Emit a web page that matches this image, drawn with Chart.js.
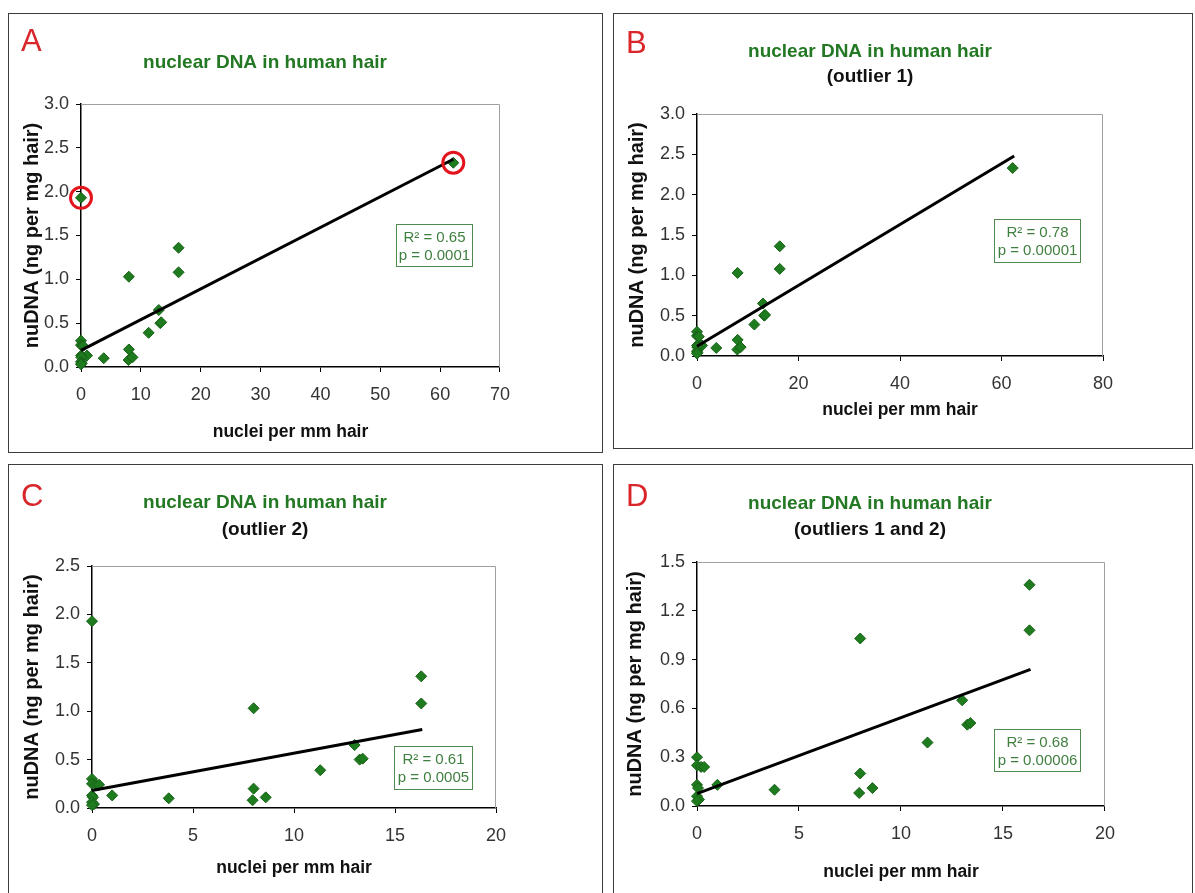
<!DOCTYPE html>
<html>
<head>
<meta charset="utf-8">
<script src="https://cdn.jsdelivr.net/npm/chart.js@4.4.1/dist/chart.umd.min.js"></script>
<style>
body { margin: 0; background: #fff; width: 1195px; height: 893px; overflow: hidden; position: relative; font-family: 'Liberation Sans', Arial, sans-serif; }
.panel { position: absolute; border: 1px solid #3c3c3c; box-sizing: border-box; overflow: hidden; }
.panel canvas { position: absolute; left: -1px; top: -1px; }
.letter { position: absolute; left: 12px; color: #d9262b; font-size: 31px; line-height: 1; }
.stat { position: absolute; box-sizing: border-box; border: 1px solid #4f8a4f; color: #3f7f3f; font-size: 15px; line-height: 18px; text-align: center; padding-top: 3px; font-family: 'Liberation Sans Narrow', 'Liberation Sans', sans-serif; }
</style>
</head>
<body>
<div class="panel" style="left:8px;top:13px;width:595px;height:440px">
  <canvas id="chartA" width="514" height="437"></canvas>
  <div class="letter" style="top:11px">A</div>
  <div class="stat" style="left:387px;top:210px;width:77px;height:43px">R² = 0.65<br>p = 0.0001</div>
</div>
<div class="panel" style="left:613px;top:13px;width:580px;height:436px">
  <canvas id="chartB" width="514" height="437"></canvas>
  <div class="letter" style="top:13px">B</div>
  <div class="stat" style="left:380px;top:205px;width:87px;height:44px">R² = 0.78<br>p = 0.00001</div>
</div>
<div class="panel" style="left:8px;top:464px;width:595px;height:440px">
  <canvas id="chartC" width="514" height="437"></canvas>
  <div class="letter" style="top:15px">C</div>
  <div class="stat" style="left:385px;top:281px;width:79px;height:44px">R² = 0.61<br>p = 0.0005</div>
</div>
<div class="panel" style="left:613px;top:464px;width:580px;height:440px">
  <canvas id="chartD" width="514" height="437"></canvas>
  <div class="letter" style="top:15px">D</div>
  <div class="stat" style="left:380px;top:264px;width:87px;height:43px">R² = 0.68<br>p = 0.00006</div>
</div>

<script>
// hair samples (outliers kept apart)
const nucleiPerMm = [16.3, 16.3, 8.0, 13.0, 13.25, 13.4, 11.3, 8.0, 7.95, 8.6, 3.8, 1.0, 0, 0, 0.2, 0.35, 0, 0.05, 0, 0.1, 0];
const nuDna = [1.36, 1.08, 1.03, 0.65, 0.50, 0.51, 0.39, 0.20, 0.08, 0.11, 0.10, 0.13, 0.30, 0.25, 0.24, 0.24, 0.13, 0.11, 0.06, 0.04, 0.03];
const outlier1 = [0, 1.93];
const outlier2 = [62.2, 2.33];

// trend line ends
const trendA = [[0, 0.19], [62.2, 2.37]];
const trendB = [[0, 0.12], [62.5, 2.48]];
const trendC = [[0, 0.18], [16.35, 0.81]];
const trendD = [[0, 0.076], [16.35, 0.84]];

// axis ticks
const xTicksA = [0, 10, 20, 30, 40, 50, 60, 70];
const xTicksB = [0, 20, 40, 60, 80];
const xTicksCD = [0, 5, 10, 15, 20];
const yTicksAB = [0, 0.5, 1.0, 1.5, 2.0, 2.5, 3.0];
const yTicksC = [0, 0.5, 1.0, 1.5, 2.0, 2.5];
const yTicksD = [0, 0.3, 0.6, 0.9, 1.2, 1.5];

const green = '#1e7b1e';
const narrow = "'Liberation Sans Narrow', 'Liberation Sans', Arial, sans-serif";
const W = 514, H = 437;

const toXY = pair => ({x: pair[0], y: pair[1]});
const basePoints = nucleiPerMm.map((x, i) => ({x: x, y: nuDna[i]}));

// grey top/right edge of the plot area
const plotFrame = {
  id: 'plotFrame',
  beforeDatasetsDraw(chart) {
    const a = chart.chartArea, ctx = chart.ctx;
    ctx.save();
    ctx.strokeStyle = '#a0a0a0';
    ctx.lineWidth = 1;
    ctx.beginPath();
    ctx.moveTo(a.left, a.top + 0.5);
    ctx.lineTo(a.right - 0.5, a.top + 0.5);
    ctx.lineTo(a.right - 0.5, a.bottom);
    ctx.stroke();
    ctx.restore();
  }
};

function drawPanel(id, p) {
  const tLH = 19 * 1.2, xLH = 17 * 1.2, yLH = 20 * 1.2;
  let titlePad, subPad;
  if (p.subtitle) {
    const t1 = p.titleY - tLH / 2;
    titlePad = {top: t1, bottom: 0};
    const t2 = p.subY - tLH / 2 - (t1 + tLH);
    subPad = {top: t2, bottom: p.plotTop - (p.subY + tLH / 2)};
  } else {
    titlePad = {top: p.titleY - tLH / 2, bottom: p.plotTop - (p.titleY + tLH / 2)};
    subPad = 0;
  }

  const datasets = [{
    type: 'scatter',
    data: p.trend.map(toXY),
    showLine: true,
    borderColor: '#000',
    borderWidth: 3,
    pointRadius: 0,
    order: 1
  }, {
    type: 'scatter',
    data: p.points,
    pointStyle: 'rectRot',
    pointRadius: 5.5,
    backgroundColor: green,
    borderColor: '#176017',
    borderWidth: 1,
    order: 2
  }];
  if (p.circled) {
    datasets.push({
      type: 'scatter',
      data: p.circled,
      pointStyle: 'circle',
      pointRadius: 10.5,
      backgroundColor: 'rgba(0,0,0,0)',
      borderColor: '#e3141c',
      borderWidth: 3,
      order: 0
    });
  }

  new Chart(id, {
    type: 'scatter',
    data: {datasets: datasets},
    plugins: [plotFrame],
    options: {
      responsive: false,
      animation: false,
      events: [],
      clip: false,
      layout: {padding: {left: 0, top: 0, right: 0, bottom: 0}},
      plugins: {
        legend: {display: false},
        tooltip: {enabled: false},
        title: {
          display: true,
          text: 'nuclear DNA in human hair',
          color: '#237823',
          font: {family: 'Arial, Liberation Sans, sans-serif', size: 19, weight: 'bold', lineHeight: 1.2},
          padding: titlePad
        },
        subtitle: {
          display: !!p.subtitle,
          text: p.subtitle || '',
          color: '#111',
          font: {family: 'Arial, Liberation Sans, sans-serif', size: 19, weight: 'bold', lineHeight: 1.2},
          padding: subPad
        }
      },
      scales: {
        x: {
          type: 'linear',
          min: p.xTicks[0],
          max: p.xTicks[p.xTicks.length - 1],
          afterBuildTicks: s => { s.ticks = p.xTicks.map(v => ({value: v})); },
          afterFit: s => { s.height = H - p.plotBottom; },
          ticks: {font: {family: narrow, size: 18}, color: '#333', padding: 12, callback: v => String(v)},
          grid: {drawOnChartArea: false, tickLength: 5, color: '#000'},
          border: {color: '#000', width: 1.5},
          title: {
            display: true,
            text: 'nuclei per mm hair',
            color: '#111',
            font: {family: 'Arial, Liberation Sans, sans-serif', size: 17.5, weight: 'bold', lineHeight: 1.2},
            padding: {top: 0, bottom: H - p.xTitleY - xLH / 2}
          }
        },
        y: {
          type: 'linear',
          min: p.yTicks[0],
          max: p.yTicks[p.yTicks.length - 1],
          afterBuildTicks: s => { s.ticks = p.yTicks.map(v => ({value: v})); },
          afterFit: s => { s.width = p.plotLeft; },
          ticks: {font: {family: narrow, size: 18}, color: '#333', padding: 7, callback: v => v.toFixed(1)},
          grid: {drawOnChartArea: false, tickLength: 5, color: '#000'},
          border: {color: '#000', width: 1.5},
          title: {
            display: true,
            text: 'nuDNA (ng per mg hair)',
            color: '#111',
            font: {family: 'Arial, Liberation Sans, sans-serif', size: 20, weight: 'bold', lineHeight: 1.2},
            padding: {top: p.yTitleX - yLH / 2, bottom: 0}
          }
        },
        // empty spacer so the plot ends where the original does
        spacer: {
          type: 'linear',
          position: 'right',
          display: true,
          afterFit: s => { s.width = W - p.plotRight; },
          ticks: {display: false},
          grid: {display: false},
          border: {display: false}
        }
      }
    }
  });
}

drawPanel('chartA', {
  points: basePoints.concat([toXY(outlier1), toXY(outlier2)]),
  circled: [toXY(outlier1), toXY(outlier2)],
  trend: trendA, xTicks: xTicksA, yTicks: yTicksAB,
  titleY: 50, plotTop: 91, plotBottom: 354, plotLeft: 73, plotRight: 492, xTitleY: 419, yTitleX: 24
});
drawPanel('chartB', {
  points: basePoints.concat([toXY(outlier2)]),
  subtitle: '(outlier 1)',
  trend: trendB, xTicks: xTicksB, yTicks: yTicksAB,
  titleY: 39, subY: 64, plotTop: 101, plotBottom: 343, plotLeft: 84, plotRight: 490, xTitleY: 397, yTitleX: 24
});
drawPanel('chartC', {
  points: basePoints.concat([toXY(outlier1)]),
  subtitle: '(outlier 2)',
  trend: trendC, xTicks: xTicksCD, yTicks: yTicksC,
  titleY: 39, subY: 66, plotTop: 102, plotBottom: 344, plotLeft: 84, plotRight: 488, xTitleY: 404, yTitleX: 24
});
drawPanel('chartD', {
  points: basePoints,
  subtitle: '(outliers 1 and 2)',
  trend: trendD, xTicks: xTicksCD, yTicks: yTicksD,
  titleY: 40, subY: 66, plotTop: 98, plotBottom: 342, plotLeft: 84, plotRight: 493, xTitleY: 408, yTitleX: 22
});
</script>
</body>
</html>
